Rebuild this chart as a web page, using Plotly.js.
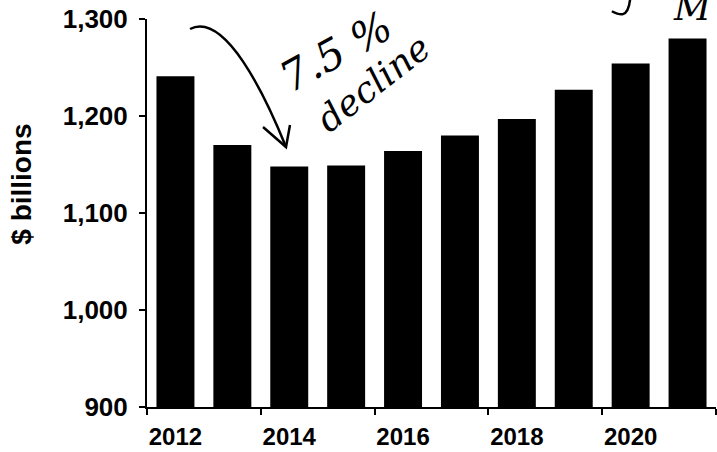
<!DOCTYPE html>
<html>
<head>
<meta charset="utf-8">
<script src="https://cdn.plot.ly/plotly-3.0.1.min.js"></script>
<style>html,body{margin:0;padding:0;background:#fff;}#chart{width:717px;height:452px;}</style>
</head>
<body>
<div id="chart"></div>
<script>
// Data
const years = [2012, 2013, 2014, 2015, 2016, 2017, 2018, 2019, 2020, 2021];
const spendingBillions = [1241, 1170, 1148, 1149, 1164, 1180, 1197, 1227, 1254, 1280];
const xTickYears = [2012, 2014, 2016, 2018, 2020];
const xTickLabels = ['2012', '2014', '2016', '2018', '2020'];
const yTickValues = [900, 1000, 1100, 1200, 1300];
const yTickLabels = ['900', '1,000', '1,100', '1,200', '1,300'];
const yTitle = '$ billions';
const noteLine1 = '7.5 %';
const noteLine2 = 'decline';

const xTickFont = {family: 'Liberation Sans, Arial, sans-serif', size: 24, color: '#000', weight: 'bold'};
const yTickFont = {family: 'Liberation Sans, Arial, sans-serif', size: 26, color: '#000', weight: 'bold'};
const titleFont = {family: 'Liberation Sans, Arial, sans-serif', size: 28, color: '#000', weight: 'bold'};
const handFont = {family: 'DejaVu Serif, serif', size: 36, color: '#000', style: 'italic'};

const trace = {
  type: 'bar',
  x: years,
  y: spendingBillions,
  width: 0.667,
  marker: {color: '#000', line: {width: 0}},
  hoverinfo: 'skip'
};

const layout = {
  width: 717,
  height: 452,
  margin: {l: 147, r: 1, t: 19, b: 45, pad: 0},
  paper_bgcolor: '#fff',
  plot_bgcolor: '#fff',
  showlegend: false,
  xaxis: {
    type: 'linear',
    range: [years[0] - 0.5, years[years.length - 1] + 0.5],
    tickmode: 'array',
    tickvals: xTickYears,
    ticktext: xTickLabels,
    ticks: '',
    showgrid: false,
    zeroline: false,
    showline: true,
    linecolor: '#000',
    linewidth: 2,
    tickfont: xTickFont,
    ticklabelstandoff: 7,
    minor: {
      tickmode: 'linear',
      tick0: years[0] - 0.5,
      dtick: 2,
      ticks: 'outside',
      ticklen: 6,
      tickwidth: 2,
      tickcolor: '#000',
      showgrid: false
    },
    fixedrange: true
  },
  yaxis: {
    range: [yTickValues[0], yTickValues[yTickValues.length - 1]],
    tickmode: 'array',
    tickvals: yTickValues,
    ticktext: yTickLabels,
    ticks: 'outside',
    ticklen: 6,
    tickwidth: 2,
    tickcolor: '#000',
    showgrid: false,
    zeroline: false,
    showline: true,
    linecolor: '#000',
    linewidth: 2,
    tickfont: yTickFont,
    ticklabelstandoff: 6,
    fixedrange: true
  },
  annotations: [
    {
      xref: 'paper', yref: 'paper', x: -0.22, y: 0.575,
      text: yTitle, textangle: -90, showarrow: false,
      font: titleFont, xanchor: 'center', yanchor: 'middle'
    },
    {
      xref: 'paper', yref: 'paper', x: 0.333, y: 0.915,
      text: noteLine1, textangle: -29, showarrow: false,
      font: {family: 'DejaVu Serif, serif', size: 42, color: '#000', style: 'italic'},
      xanchor: 'center', yanchor: 'middle'
    },
    {
      xref: 'paper', yref: 'paper', x: 0.397, y: 0.835,
      text: noteLine2, textangle: -38, showarrow: false,
      font: handFont, xanchor: 'center', yanchor: 'middle'
    },
    {
      xref: 'paper', yref: 'paper', x: 0.958, y: 0.972,
      text: 'M', showarrow: false,
      font: {family: 'DejaVu Serif, serif', size: 36, color: '#000', style: 'italic'},
      xanchor: 'center', yanchor: 'bottom'
    }
  ],
  shapes: [
    {
      type: 'path', xref: 'paper', yref: 'paper',
      path: 'M 0.0756 0.9742 C 0.1371 1.02 0.2074 0.8041 0.2443 0.6701',
      line: {color: '#000', width: 2.5}
    },
    {
      type: 'path', xref: 'paper', yref: 'paper',
      path: 'M 0.2039 0.7216 L 0.2443 0.6701 L 0.2513 0.7268',
      line: {color: '#000', width: 2.5}
    },
    {
      type: 'path', xref: 'paper', yref: 'paper',
      path: 'M 0.849 1.05 C 0.845 1.0 0.83 1.01 0.817 1.02',
      line: {color: '#000', width: 2.5}
    }
  ]
};

Plotly.newPlot('chart', [trace], layout, {displayModeBar: false, staticPlot: true});
</script>
</body>
</html>
